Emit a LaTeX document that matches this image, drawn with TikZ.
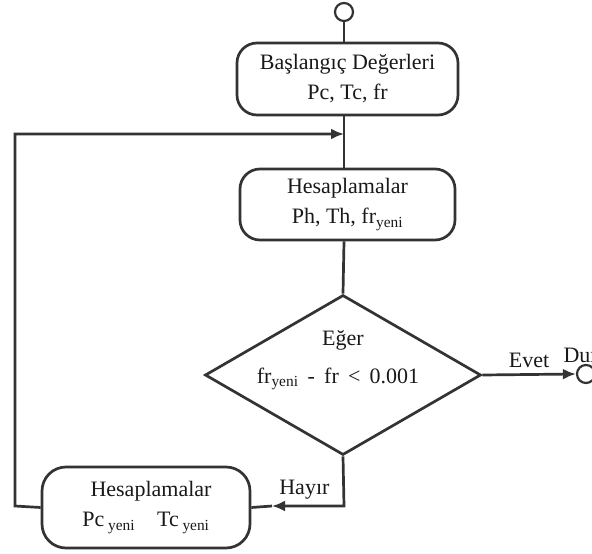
\documentclass[tikz,border=0pt]{standalone}
\usepackage{fontspec}
\setmainfont{Liberation Serif}
\usetikzlibrary{shapes.geometric,arrows.meta}
\begin{document}
\begin{tikzpicture}[x=1pt,y=-1pt,
  ln/.style={draw=black!80, line width=2.7pt},
  box/.style={draw=black!80, line width=2.7pt, rounded corners=20pt, align=center, inner sep=0pt},
  term/.style={circle, draw=black!80, line width=2.2pt, minimum size=18pt, inner sep=0pt},
  arr/.style={-{Latex[length=13pt,width=11pt]}},
  txt/.style={font=\fontsize{22}{30}\selectfont, text=black!90}]
\clip (0,0) rectangle (592,554);
\useasboundingbox (0,0) rectangle (592,554);
% nodes
\node[term] (start) at (344,12) {};
\node[box, txt, minimum width=221pt, minimum height=72pt] (b1) at (347.5,79)
  {Başlangıç Değerleri\\Pc, Tc, fr};
\node[box, txt, minimum width=215pt, minimum height=71pt] (b2) at (347.5,204.5)
  {Hesaplamalar\\Ph, Th, fr\textsubscript{yeni}};
\node[diamond, ln, txt, align=center, inner sep=0pt, minimum width=276pt, minimum height=160pt] (d) at (343,375) {};
\node[txt] (deger) at (343,340) {Eğer};
\node[txt] (cond) at (338,379) {fr\textsubscript{yeni}\, -\,  fr \,<\, 0.001};
\node[term] (stop) at (586,374) {};
\node[txt, anchor=west] (dur) at (560,355) {Dur};
\node[box, txt, rounded corners=24pt, minimum width=208pt, minimum height=81pt] (b3) at (146,507.5)
  {\hspace*{10pt}Hesaplamalar\\Pc\,\textsubscript{yeni}\quad Tc\,\textsubscript{yeni}};
% coordinates
\coordinate (m) at (344,134);
\coordinate (c1) at (15,506);
\coordinate (c2) at (15,134);
\coordinate (ah) at (272,506);
\coordinate (dbot) at (344,506);
% connectors
\draw[ln] (start) -- (start |- b1.north);
\draw[ln] (b1.south -| m) -- (b2.north -| m);
\draw[ln] (b2.south -| m) -- (d.north);
\draw[ln, arr] (b3.west) -- (c1) -- (c2) -- (m);
\draw[ln, arr] (d.east) -- node[txt, above=2pt] (evet) {Evet} (stop.west);
\draw[ln, arr] (d.south) -- (dbot) -- node[txt, above=2pt, pos=0.55] (hayir) {Hayır} (ah);
\draw[ln] (ah) -- (b3.east);
\end{tikzpicture}
\end{document}
